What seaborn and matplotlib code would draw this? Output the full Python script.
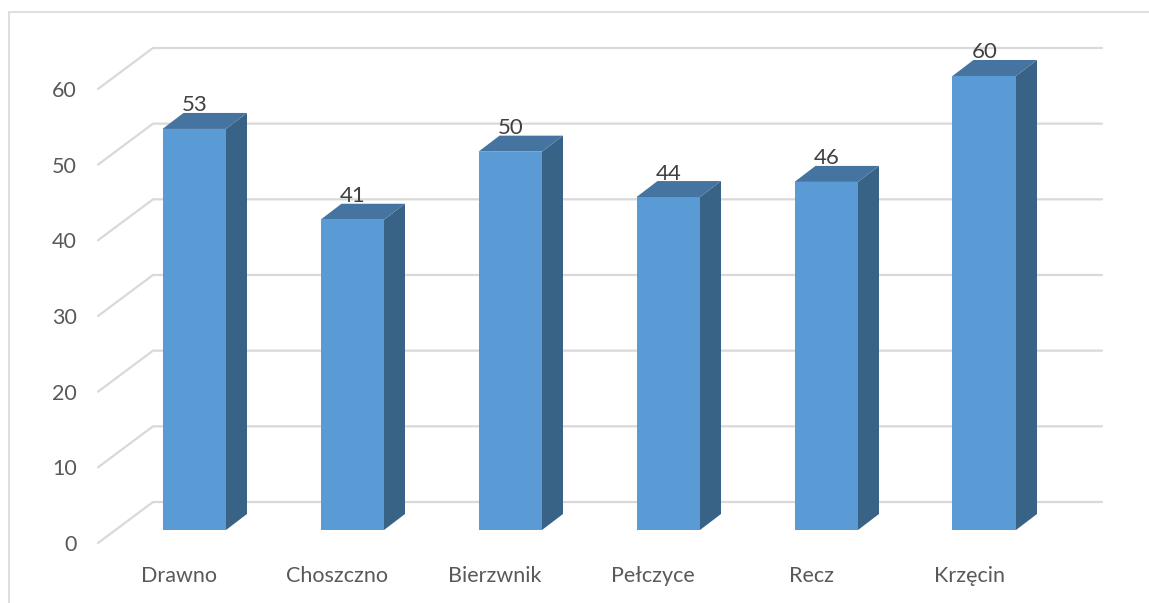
import matplotlib
matplotlib.use("Agg")
import matplotlib.pyplot as plt
from matplotlib.lines import Line2D
from matplotlib.transforms import Affine2D
import pandas as pd
import seaborn as sns

categories = ["Drawno", "Choszczno", "Bierzwnik", "Pełczyce", "Recz", "Krzęcin"]
values = [53, 41, 50, 44, 46, 60]
y_ticks = [0, 10, 20, 30, 40, 50, 60]

W, H = 1149, 603
PX_PER_CAT = 158.0
PX_PER_UNIT = 7.567
BAR_W_PX = 63.5
X0_PX = 194.25     # centre of first bar
Y0_PX = 530.0      # baseline of bars (front face)
AX_L, AX_R, AX_T, AX_B = 98, 1102, 12, 545

FRONT, TOP, SIDE = "#5B9BD5", "#4674A0", "#396386"
GRID = "#D9D9D9"
TXT = "#595959"

sns.set_theme(style="white")
plt.rcParams["font.family"] = ["Lato", "DejaVu Sans"]

fig = plt.figure(figsize=(W / 100, H / 100), dpi=100)
ax = fig.add_axes([AX_L / W, 1 - AX_B / H, (AX_R - AX_L) / W, (AX_B - AX_T) / H])
ax.patch.set_alpha(0)

df = pd.DataFrame({"gmina": categories, "value": values})
sns.barplot(data=df, x="gmina", y="value", color=FRONT, saturation=1,
            width=BAR_W_PX / PX_PER_CAT, ax=ax, zorder=3, linewidth=0)

ax.set_xlim((AX_L - X0_PX) / PX_PER_CAT, (AX_R - X0_PX) / PX_PER_CAT)
ax.set_ylim((Y0_PX - AX_B) / PX_PER_UNIT, (Y0_PX - AX_T) / PX_PER_UNIT)
xmin, xmax = ax.get_xlim()

# conversions of pixel depth offsets to data units
def dx(px): return px / PX_PER_CAT
def dy(px): return px / PX_PER_UNIT

# floor/back grid lines: diagonal on the side wall, horizontal on the back wall
GRID_DX, GRID_DY = 55, 41
GRID_FRONT_DROP = 13
for t in y_ticks:
    yf = t - dy(GRID_FRONT_DROP)
    yb = yf + dy(GRID_DY)
    ax.plot([xmin, xmin + dx(GRID_DX), xmax], [yf, yb, yb], color=GRID, lw=1.6,
            solid_joinstyle="miter", zorder=1, clip_on=False)

# 3D faces of each bar
DEPTH_X, DEPTH_Y = 21, 16
half = BAR_W_PX / PX_PER_CAT / 2
for i, v in enumerate(values):
    l, r = i - half, i + half
    ax.fill([r, r + dx(DEPTH_X), r + dx(DEPTH_X), r],
            [0, dy(DEPTH_Y), v + dy(DEPTH_Y), v], color=SIDE, lw=0, zorder=3)
    ax.fill([l, l + dx(DEPTH_X), r + dx(DEPTH_X), r],
            [v, v + dy(DEPTH_Y), v + dy(DEPTH_Y), v], color=TOP, lw=0, zorder=3)
    ax.annotate(str(v), (i, v), xytext=(0, 23.5 * 0.72), textcoords="offset points",
                ha="center", va="center", fontsize=16, color="#404040", zorder=5)

ax.set_xlabel("")
ax.set_ylabel("")
ax.set_yticks(y_ticks)
ax.set_xticks(range(len(categories)))
ax.set_xticklabels(categories)
ax.tick_params(axis="y", length=0, pad=21 * 0.72, labelsize=15.5, labelcolor=TXT)
ax.tick_params(axis="x", length=0, pad=20.5 * 0.72, labelsize=15.5, labelcolor=TXT)
for lab in ax.get_yticklabels():
    lab.set_transform(lab.get_transform() + Affine2D().translate(0, -13))
for lab in ax.get_xticklabels():
    lab.set_transform(lab.get_transform() + Affine2D().translate(-15, 0))
sns.despine(ax=ax, left=True, bottom=True)

# outer chart frame, cropped at right and bottom
for xs, ys in [((9 / W, 1), (1 - 12 / H, 1 - 12 / H)), ((9 / W, 9 / W), (0, 1 - 12 / H))]:
    fig.add_artist(Line2D(xs, ys, color=GRID, lw=1.2, transform=fig.transFigure))

fig.savefig("out.png", dpi=100, facecolor="white")
